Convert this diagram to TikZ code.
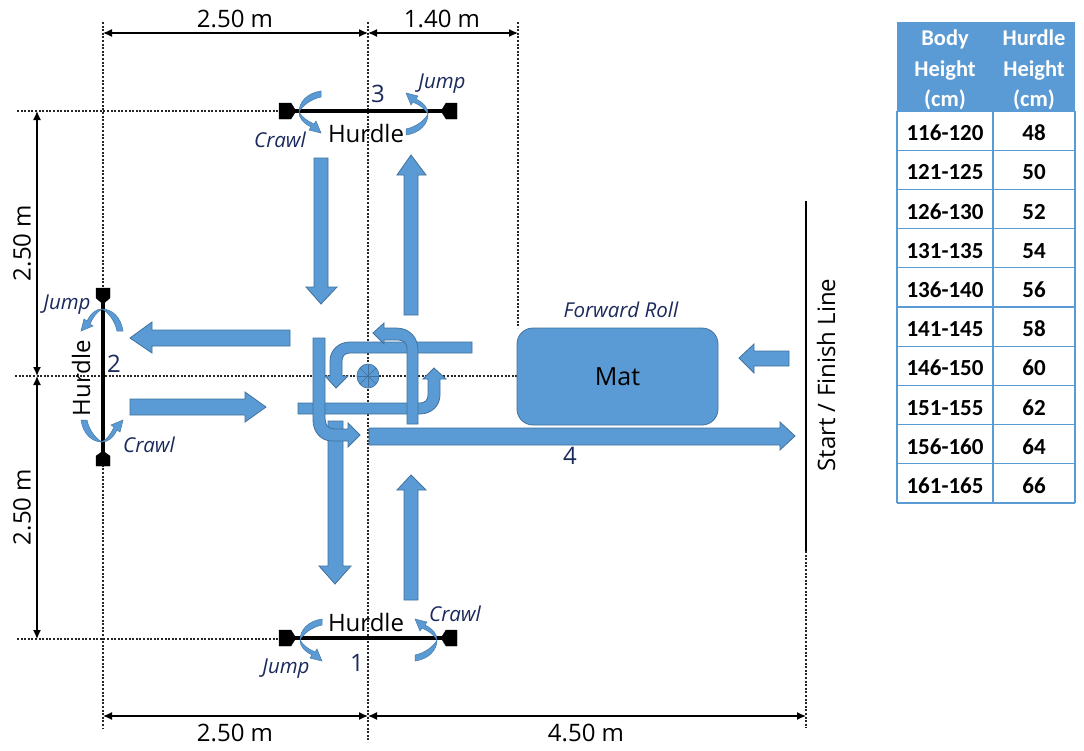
\documentclass[tikz,border=0pt]{standalone}
\usepackage{fontspec}
\setmainfont{Open Sans}
\newfontfamily\tabfont{Carlito}
\usetikzlibrary{arrows.meta}
\definecolor{blk}{HTML}{5B9BD5}
\definecolor{edg}{HTML}{41719C}
\definecolor{navy}{HTML}{1B2A5C}
\tikzset{
  x=1pt,y=-1pt,
  blockar/.style={fill=blk,draw=edg,line width=0.8pt,line join=miter},
  guide/.style={dash pattern=on 2pt off 1.6pt,line width=1.5pt,black!85},
  dimen/.style={line width=1.3pt,{Latex[length=9pt,width=8pt]}-{Latex[length=9pt,width=8pt]}},
  lab/.style={font=\fontsize{24}{26}\selectfont,inner sep=0pt},
  captxt/.style={font=\itshape\fontsize{20.5}{22}\selectfont,text=navy,inner sep=0pt},
  num/.style={font=\fontsize{24}{26}\selectfont,text=navy,inner sep=0pt},
  curlshape/.style={fill=blk,draw=edg!80!blk,line width=0.5pt},
  endcap/.style={fill=black,draw=black,line width=0.3pt},
  barline/.style={line width=3.4pt,black},
  hdr/.style={font=\tabfont\bfseries\fontsize{22.5}{30.5}\selectfont,text=white,inner sep=0pt,align=center},
  cellt/.style={font=\tabfont\bfseries\fontsize{23}{25}\selectfont,inner sep=0pt},
  rowline/.style={draw=blk,line width=1.3pt},
}
\newcommand{\curlat}[6]{%
  \begin{scope}[shift={(#1,#2)},x={(#3pt,#4pt)},y={(#5pt,#6pt)}]
    \path[curlshape] (22,-21) .. controls (8,-19) and (0,-10) .. (0,0)
      .. controls (0,6) and (4,11) .. (12,15) -- (10,18) -- (22,21) -- (17,9) -- (15,12)
      .. controls (8,9) and (3,5) .. (0,0)
      .. controls (3,-6) and (12,-13) .. (22,-15) -- cycle;
  \end{scope}}
\begin{document}
\begin{tikzpicture}
\useasboundingbox (0,0) rectangle (1084,750);
\fill[white] (0,0) rectangle (1084,750);
% guide coordinates
\coordinate (vA1) at (103,22); \coordinate (vA2) at (103,728);
\coordinate (vB1) at (368,22); \coordinate (vB2) at (368,742);
\coordinate (vC1) at (518,22); \coordinate (vC2) at (518,328);
\coordinate (vD1) at (806,551); \coordinate (vD2) at (806,728);
\coordinate (hA1) at (17,111); \coordinate (hA2) at (280,111);
\coordinate (hB1) at (15,376); \coordinate (hB2) at (517,376);
\coordinate (hC1) at (17,639); \coordinate (hC2) at (280,639);
\draw[guide] (vA1)--(vA2);
\draw[guide] (vB1)--(vB2);
\draw[guide] (vC1)--(vC2);
\draw[guide] (vD1)--(vD2);
\draw[guide] (hA1)--(hA2);
\draw[guide] (hB1)--(hB2);
\draw[guide] (hC1)--(hC2);
% dimension lines
\coordinate (dT1) at (103,33); \coordinate (dT2) at (368,33); \coordinate (dT3) at (518,33);
\coordinate (dL1) at (37,111); \coordinate (dL2) at (37,376); \coordinate (dL3) at (37,639);
\coordinate (dB1) at (103,716); \coordinate (dB2) at (368,716); \coordinate (dB3) at (806,716);
\draw[dimen] (dT1)--(dT2);
\draw[dimen] (dT2)--(dT3);
\draw[dimen] (dL1)--(dL2);
\draw[dimen] (dL2)--(dL3);
\draw[dimen] (dB1)--(dB2);
\draw[dimen] (dB2)--(dB3);
\node[lab] (t1) at (235,19) {2.50 m};
\node[lab] (t2) at (442,19) {1.40 m};
\node[lab,rotate=90] (t3) at (22,243) {2.50 m};
\node[lab,rotate=90] (t4) at (22,507) {2.50 m};
\node[lab] (t5) at (235,733) {2.50 m};
\node[lab] (t6) at (586,733) {4.50 m};
% straight block arrows
\path[blockar] (314,158)--(328,158)--(328,287)--(337,287)--(321,304)--(306,287)--(314,287)--cycle;
\path[blockar] (404,315)--(418,315)--(418,175)--(426,175)--(411,155)--(397,175)--(404,175)--cycle;
\path[blockar] (290,330)--(290,346)--(152,346)--(152,353)--(130,338)--(152,322)--(152,330)--cycle;
\path[blockar] (130,399)--(130,415)--(245,415)--(245,422)--(266,407)--(245,392)--(245,399)--cycle;
\path[blockar] (328,421)--(343,421)--(343,566)--(351,566)--(335,584)--(319,566)--(328,566)--cycle;
\path[blockar] (404,600)--(418,600)--(418,490)--(426,490)--(411,475)--(397,490)--(404,490)--cycle;
\path[blockar] (369,428)--(369,445)--(780,445)--(780,450)--(795,436)--(780,422)--(780,428)--cycle;
\path[blockar] (789,351)--(789,366)--(754,366)--(754,373)--(739,358)--(754,344)--(754,351)--cycle;
% bent arrows
\path[blockar] (472,342)--(472,353)--(350,353) .. controls (345,353) and (342,356) .. (342,361)
  --(342,376)--(348,376)--(336,388)--(325,376)--(330,376)--(330,361)
  .. controls (330,350) and (339,342) .. (350,342)--cycle;
\path[blockar] (298,403)--(420,403) .. controls (425,403) and (428,400) .. (428,395)
  --(428,379)--(423,379)--(434,368)--(446,379)--(440,379)--(440,395)
  .. controls (440,406) and (431,414) .. (420,414)--(298,414)--cycle;
\path[blockar] (418,424)--(418,350) .. controls (418,338) and (410,328) .. (396,328)
  --(384,328)--(384,323)--(373,333)--(384,344)--(384,340)--(398,340)
  .. controls (403,340) and (407,343) .. (407,348)--(407,424)--cycle;
\path[blockar] (313,338)--(325,338)--(325,418) .. controls (325,425) and (328,429) .. (335,429)
  --(348,429)--(348,423)--(360,435)--(348,447)--(348,441)--(332,441)
  .. controls (321,441) and (313,432) .. (313,420)--cycle;
% centre marker
\coordinate (cc) at (368,376);
\path[fill=blk,draw=edg,line width=0.7pt] (cc) ellipse [x radius=11,y radius=12];
\foreach \a in {0,45,...,135}{
  \draw[edg,line width=0.4pt] (cc) ++(\a:11) -- ++(\a+180:22);
}
% mat
\node[fill=blk,draw=edg,line width=0.8pt,rounded corners=16pt,minimum width=201pt,minimum height=97pt,inner sep=0pt,font=\fontsize{25}{27}\selectfont] (mat) at (617.5,376.5) {Mat};
\node[captxt] (froll) at (621,310) {Forward Roll};
% start line
\coordinate (s1) at (806,201); \coordinate (s2) at (806,551);
\draw[line width=2.4pt] (s1)--(s2);
\node[lab,rotate=90] (sf) at (826,375) {Start / Finish Line};
\node[num] (n4) at (570,456) {4};
% hurdle 3 (top)
\draw[barline] (293,111)--(444,111);
\path[endcap] (279,103)--(291,103)--(296,111)--(291,119)--(279,119)--cycle;
\path[endcap] (457,103)--(446,103)--(441,111)--(446,119)--(457,119)--cycle;
\node[lab] (h3) at (366,133) {Hurdle};
\node[num] (n3) at (378,94) {3};
\curlat{299}{112}{1}{0}{0}{-1}
\curlat{428}{114}{-1}{0}{0}{1}
\node[captxt] (c3) at (280,140) {Crawl};
\node[captxt] (j3) at (442,84) {Jump};
% hurdle 1 (bottom)
\draw[barline] (293,638)--(444,638);
\path[endcap] (279,630)--(291,630)--(296,638)--(291,646)--(279,646)--cycle;
\path[endcap] (457,630)--(446,630)--(441,638)--(446,646)--(457,646)--cycle;
\node[lab] (h1) at (366,622) {Hurdle};
\node[num] (n1) at (357,663) {1};
\curlat{300}{640}{1}{0}{0}{-1}
\curlat{437}{640}{-1}{0}{0}{1}
\node[captxt] (c1) at (455,614) {Crawl};
\node[captxt] (j1) at (286,669) {Jump};
% hurdle 2 (left)
\draw[barline] (103,301)--(103,455);
\path[endcap] (96,288)--(110,288)--(110,298)--(103,304)--(96,298)--cycle;
\path[endcap] (96,466)--(110,466)--(110,456)--(103,451)--(96,456)--cycle;
\node[lab,rotate=90] (h2) at (81,378) {Hurdle};
\node[num] (n2) at (114,364) {2};
\curlat{102}{309}{0}{-1}{-1}{0}
\curlat{102}{442}{0}{1}{1}{0}
\node[captxt] (j2) at (67,305) {Jump};
\node[captxt] (c2) at (149,445) {Crawl};
% table
\fill[blk] (897,22) rectangle (1075,111);
\foreach \y in {111,150.2,189.4,228.6,267.8,307,346.2,385.4,424.6,463.8,503}{
  \draw[rowline] (897,\y)--(1075,\y);
}
\draw[rowline] (897,111)--(897,503);
\draw[rowline] (993,111)--(993,503);
\draw[rowline] (1075,111)--(1075,503);
\node[hdr] (hd1) at (945,70) {Body\\Height\\(cm)};
\node[hdr] (hd2) at (1034,70) {Hurdle\\Height\\(cm)};
\foreach \n/\a/\b/\y in {r1/116-120/48/133,r2/121-125/50/172,r3/126-130/52/212,r4/131-135/54/251,r5/136-140/56/290,r6/141-145/58/329,r7/146-150/60/368,r8/151-155/62/408,r9/156-160/64/447,r10/161-165/66/486}{
  \node[cellt] (\n a) at (945,\y) {\a};
  \node[cellt] (\n b) at (1034,\y) {\b};
}
\end{tikzpicture}
\end{document}
